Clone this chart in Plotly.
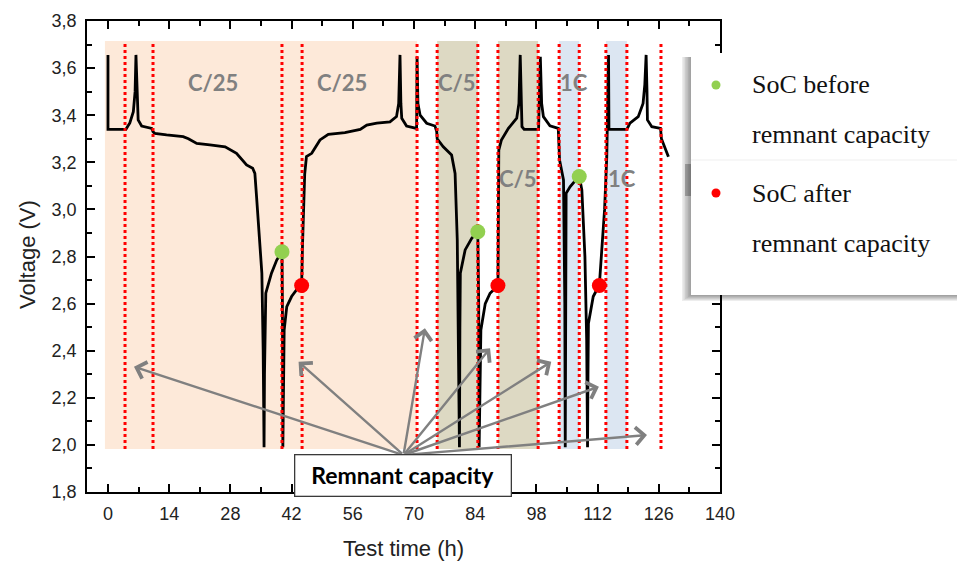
import plotly.graph_objects as go

# ---------------- data ----------------
time_h = [0.0, 0.0, 4.1, 5.0, 5.8, 6.2, 6.4, 6.6, 6.9, 7.7, 10.0, 10.3, 10.7, 13.4, 17.2, 18.4,
          20.3, 23.3, 26.8, 29.4, 31.7, 33.1, 33.6, 34.0, 34.4, 35.2, 35.5, 35.7, 35.8, 35.9,
          36.1, 37.4, 38.6, 39.8, 39.9, 40.0, 40.2, 40.3, 40.9, 42.0, 43.2, 44.3, 44.5, 44.7,
          45.0, 45.4, 46.6, 48.5, 50.4, 54.2, 57.7, 59.2, 61.5, 64.5, 66.0, 66.5, 66.8, 67.0,
          67.2, 68.3, 70.6, 70.7, 70.9, 71.4, 72.9, 74.8, 75.2, 75.3, 76.7, 78.6, 79.4, 79.9,
          80.2, 80.4, 80.5, 80.6, 81.7, 83.2, 84.6, 84.8, 84.9, 85.1, 85.3, 86.3, 87.4, 89.2,
          89.3, 89.4, 90.0, 91.6, 93.5, 94.0, 94.3, 94.5, 94.7, 95.2, 98.5, 98.9, 99.2, 99.6,
          101.1, 103.0, 103.3, 104.2, 104.5, 104.6, 104.7, 104.8, 105.7, 107.8, 108.4, 109.1,
          109.5, 109.7, 109.8, 109.9, 111.0, 112.4, 113.6, 114.1, 114.5, 114.6, 118.7, 119.4,
          121.3, 122.4, 122.8, 123.1, 123.3, 123.4, 124.4, 126.4, 126.6, 128.2]
voltage_v = [3.656, 3.34, 3.34, 3.367, 3.415, 3.50, 3.656, 3.50, 3.38, 3.354, 3.344, 3.33, 3.323,
             3.316, 3.309, 3.30, 3.28, 3.274, 3.266, 3.238, 3.189, 3.175, 3.153, 3.05, 2.94,
             2.729, 2.40, 1.99, 2.30, 2.544, 2.644, 2.729, 2.785, 2.82, 2.6, 1.99, 2.3, 2.488,
             2.587, 2.63, 2.66, 2.679, 2.85, 3.011, 3.15, 3.224, 3.238, 3.295, 3.319, 3.326,
             3.34, 3.358, 3.366, 3.372, 3.394, 3.45, 3.656, 3.45, 3.387, 3.354, 3.344, 3.648,
             3.45, 3.40, 3.366, 3.354, 3.33, 3.30, 3.266, 3.231, 3.153, 2.87, 2.4, 1.99, 2.5,
             2.729, 2.828, 2.877, 2.905, 2.6, 1.99, 2.3, 2.488, 2.60, 2.644, 2.676, 3.0, 3.252,
             3.295, 3.344, 3.387, 3.45, 3.656, 3.45, 3.351, 3.34, 3.34, 3.648, 3.45, 3.394,
             3.355, 3.344, 3.21, 3.125, 2.6, 1.99, 2.6, 3.068, 3.096, 3.142, 3.082, 2.80,
             2.445, 1.99, 2.3, 2.516, 2.63, 2.679, 3.0, 3.224, 3.656, 3.34, 3.34, 3.366, 3.394,
             3.45, 3.53, 3.656, 3.50, 3.38, 3.351, 3.344, 3.30, 3.224]

before_t = [39.8, 84.6, 107.8]
before_v = [2.82, 2.905, 3.14]
after_t = [44.3, 89.2, 112.4]
after_v = [2.677, 2.677, 2.677]

divider_t = [3.9, 10.3, 39.8, 44.4, 70.7, 75.3, 84.6, 89.2, 98.4, 103.2, 107.8, 113.9, 118.7, 126.5]

shade_start = [-0.7, 75.3, 89.2, 103.2, 113.9]
shade_end = [70.7, 84.6, 98.4, 107.8, 118.7]
shade_rate = ["C/25", "C/5", "C/5", "1C", "1C"]
shade_bottom_v = 1.983
shade_top_v = 3.715

rate_labels = ["C/25", "C/25", "C/5", "1C", "C/5", "1C"]
rate_label_t = [24.0, 53.5, 79.8, 106.6, 93.8, 117.5]
rate_label_v = [3.54, 3.54, 3.54, 3.54, 3.133, 3.133]

arrow_origin_t, arrow_origin_v = 67.6, 1.957
arrow_t = [5.95, 43.6, 72.5, 87.4, 101.4, 112.3, 123.3]
arrow_v = [2.332, 2.353, 2.495, 2.41, 2.353, 2.247, 2.042]

x_ticks = [0, 14, 28, 42, 56, 70, 84, 98, 112, 126, 140]
y_ticks = [1.8, 2.0, 2.2, 2.4, 2.6, 2.8, 3.0, 3.2, 3.4, 3.6, 3.8]

# ---------------- layout helpers ----------------
W, H = 957, 561
ML, MR, MT, MB = 87, 237, 21, 69
PW, PH = W - ML - MR, H - MT - MB


def px_x(px):
    return (px - ML) / PW


def px_y(py):
    return (H - MB - py) / PH


shade_colors = {"C/25": "#FDE9D9", "C/5": "#DDD9C3", "1C": "#DCE6F2"}

fig = go.Figure()

fig.add_trace(go.Scatter(x=time_h, y=voltage_v, mode="lines",
                         line=dict(color="black", width=2.8), hoverinfo="skip"))

dx, dy = [], []
for t in divider_t:
    dx += [t, t, None]
    dy += [shade_bottom_v, shade_top_v, None]
fig.add_trace(go.Scatter(x=dx, y=dy, mode="lines",
                         line=dict(color="#FF0000", width=3, dash="dot"), hoverinfo="skip"))

fig.add_trace(go.Scatter(x=before_t, y=before_v, mode="markers",
                         marker=dict(color="#92D050", size=15), name="SoC before remnant capacity"))
fig.add_trace(go.Scatter(x=after_t, y=after_v, mode="markers",
                         marker=dict(color="#FF0000", size=15), name="SoC after remnant capacity"))

shapes = []
for s, e, r in zip(shade_start, shade_end, shade_rate):
    shapes.append(dict(type="rect", xref="x", yref="y", x0=s, x1=e, y0=shade_bottom_v,
                       y1=shade_top_v, fillcolor=shade_colors[r], line=dict(width=0),
                       layer="below"))

# custom legend box with soft shadow
bx0, bx1, by0, by1 = 691, 962, 53, 295
for k in range(6, 0, -1):
    shapes.append(dict(type="rect", xref="paper", yref="paper",
                       x0=px_x(bx0 - 1.5 * k), x1=px_x(bx1),
                       y0=px_y(by1 + 1.0 * k), y1=px_y(by0 + 4),
                       fillcolor="rgba(0,0,0,0.07)", line=dict(width=0), layer="above"))
shapes.append(dict(type="rect", xref="paper", yref="paper",
                   x0=px_x(bx0 - 6), x1=px_x(bx0), y0=px_y(196), y1=px_y(164),
                   fillcolor="rgba(0,0,0,0.25)", line=dict(width=0), layer="above"))
shapes.append(dict(type="rect", xref="paper", yref="paper",
                   x0=px_x(bx0), x1=px_x(bx1), y0=px_y(by1), y1=px_y(by0),
                   fillcolor="white", line=dict(width=0), layer="above"))
shapes.append(dict(type="line", xref="paper", yref="paper",
                   x0=px_x(bx0), x1=px_x(bx1), y0=px_y(160), y1=px_y(160),
                   line=dict(color="#EFEFEF", width=1), layer="above"))
for cy, col in [(85, "#92D050"), (193, "#FF0000")]:
    shapes.append(dict(type="circle", xref="paper", yref="paper",
                       x0=px_x(711.5), x1=px_x(720.5), y0=px_y(cy + 4.5), y1=px_y(cy - 4.5),
                       fillcolor=col, line=dict(width=0), layer="above"))

annotations = []
for txt, t, v in zip(rate_labels, rate_label_t, rate_label_v):
    annotations.append(dict(x=t, y=v, xref="x", yref="y", text=txt, showarrow=False,
                            xanchor="center", yanchor="middle",
                            font=dict(family="Lato", size=22, color="#808080", weight="bold")))

for t, v in zip(arrow_t, arrow_v):
    annotations.append(dict(x=t, y=v, xref="x", yref="y", ax=arrow_origin_t, ay=arrow_origin_v,
                            axref="x", ayref="y", text="", showarrow=True, arrowhead=4,
                            arrowsize=1.4, arrowwidth=2.4, arrowcolor="#808080",
                            standoff=0, startstandoff=0))

annotations.append(dict(x=67.5, y=1.868, xref="x", yref="y", text="Remnant capacity",
                        showarrow=False, bgcolor="white", bordercolor="#3a3a3a", borderwidth=1.3,
                        borderpad=1, width=213, height=38, xanchor="center", yanchor="middle",
                        font=dict(family="Lato", size=23, color="black", weight="bold")))

legend_lines = [("SoC before", 85), ("remnant capacity", 135), ("SoC after", 193),
                ("remnant capacity", 243)]
for txt, cy in legend_lines:
    annotations.append(dict(x=px_x(750), y=px_y(cy), xref="paper", yref="paper", text=txt,
                            xanchor="left", yanchor="middle", showarrow=False,
                            font=dict(family="Liberation Serif", size=26, color="#111111")))

annotations.append(dict(x=px_x(403), y=px_y(548), xref="paper", yref="paper",
                        text="Test time (h)", showarrow=False, xanchor="center", yanchor="middle",
                        font=dict(family="Liberation Sans", size=22, color="#222222")))
annotations.append(dict(x=px_x(27), y=px_y(255), xref="paper", yref="paper",
                        text="Voltage (V)", showarrow=False, textangle=-90,
                        xanchor="center", yanchor="middle",
                        font=dict(family="Liberation Sans", size=22, color="#222222")))

axis_common = dict(showline=True, linecolor="black", linewidth=1.8, mirror="ticks",
                   ticks="inside", ticklen=8, tickwidth=1.8, tickcolor="black",
                   showgrid=False, zeroline=False,
                   tickfont=dict(family="Liberation Sans", size=18, color="#222222"))

fig.update_layout(
    width=W, height=H, autosize=False,
    margin=dict(l=ML, r=MR, t=MT, b=MB),
    paper_bgcolor="white", plot_bgcolor="white",
    showlegend=False, separators=",.",
    shapes=shapes, annotations=annotations,
    xaxis=dict(range=[-4.8, 140], tickvals=x_ticks, ticklabelstandoff=4,
               minor=dict(ticks="inside", ticklen=5, tickwidth=1.8, tickcolor="black", dtick=7, tick0=0),
               **axis_common),
    yaxis=dict(range=[1.8, 3.8], tickvals=y_ticks, tickformat=".1f", ticklabelstandoff=5,
               minor=dict(ticks="inside", ticklen=5, tickwidth=1.8, tickcolor="black", dtick=0.1, tick0=1.8),
               **axis_common),
)

fig.write_html("out.html")
